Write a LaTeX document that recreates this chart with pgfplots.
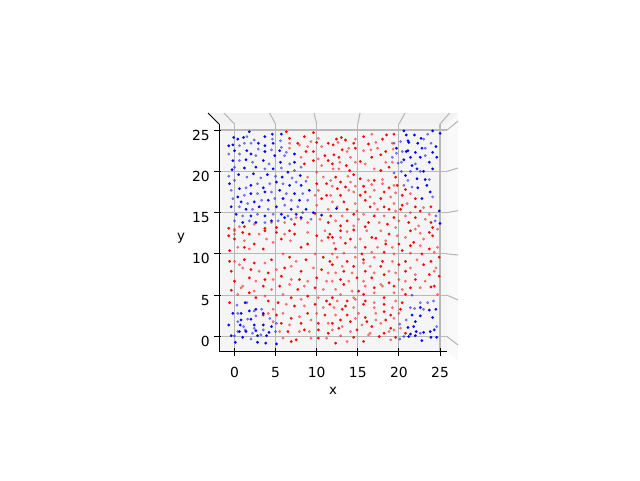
\documentclass[border=0pt]{standalone}
\usepackage{fontspec}
\setmainfont{DejaVu Sans}
\usepackage{pgfplots}
\pgfplotsset{compat=1.18}
\definecolor{gridgray}{RGB}{184,184,184}
\definecolor{floorpane}{RGB}{245,245,245}
\definecolor{backpane}{RGB}{242,242,242}
\definecolor{sidepane}{RGB}{249,249,249}
\pgfplotsset{
  solidpt/.style={only marks,color=#1,mark=*,mark size=1pt,mark options={solid,fill=#1,line width=0.1pt}},
  fadedpt/.style={only marks,color=#1,mark=*,mark size=1pt,mark options={solid,fill=#1,line width=0.1pt,opacity=0.5}},
  wallgrid/.style={draw=gridgray,line width=0.8pt,no marks,forget plot},
  tickmark/.style={draw=black,line width=0.75pt,no marks,forget plot},
}
\begin{document}
\begin{tikzpicture}
\useasboundingbox (0,0) rectangle (480pt,360pt);
\begin{axis}[
  at={(164.25pt,96.75pt)},anchor=south west,scale only axis,
  width=171pt,height=170.25pt,
  xmin=-1.886,xmax=25.85,ymin=-1.755,ymax=25.73,
  clip=false,
  axis x line*=bottom,axis y line*=left,
  axis line style={-,black,line width=0.75pt},
  axis background/.style={fill=floorpane},
  xtick={0,5,...,25},ytick={0,5,...,25},
  major tick length=0pt,
  xmajorgrids,ymajorgrids,
  grid style={gridgray,line width=0.8pt},
  tick label style={font=\fontsize{10.4}{12}\selectfont,/pgf/number format/assume math mode=true},
  xticklabel shift=8.8pt,yticklabel shift=3.4pt,
  yticklabel style={yshift=-3.75pt},
  label style={font=\fontsize{10.4}{12}\selectfont},
  xlabel={x},ylabel={y},
  every axis x label/.style={at={(axis description cs:0.5,-0.176)},anchor=center},
  every axis y label/.style={at={(axis description cs:-0.1667,0.498)},anchor=center},
]
% panes around the floor
\addplot[draw=none,fill=backpane,forget plot] coordinates {(-3.22,27.06) (27.19,27.06) (25.85,25.73) (-1.886,25.73)} -- cycle;
\addplot[draw=none,fill=sidepane,forget plot] coordinates {(25.85,25.73) (27.19,27.06) (27.19,-2.97) (25.85,-1.755)} -- cycle;
% grid continuing on the walls
\addplot[wallgrid] coordinates {(0,25.73) (-1.28,27.06)};
\addplot[wallgrid] coordinates {(5,25.73) (4.26,27.06)};
\addplot[wallgrid] coordinates {(10,25.73) (9.67,27.06)};
\addplot[wallgrid] coordinates {(15,25.73) (15.27,27.06)};
\addplot[wallgrid] coordinates {(20,25.73) (20.74,27.06)};
\addplot[wallgrid] coordinates {(25,25.73) (26.16,27.06)};
\addplot[wallgrid] coordinates {(25.85,25) (27.19,26.09)};
\addplot[wallgrid] coordinates {(25.85,20) (27.19,20.4)};
\addplot[wallgrid] coordinates {(25.85,15) (27.19,15.25)};
\addplot[wallgrid] coordinates {(25.85,10) (27.19,9.87)};
\addplot[wallgrid] coordinates {(25.85,5) (27.19,4.42)};
\addplot[wallgrid] coordinates {(25.85,0) (27.19,-1.03)};
\addplot[tickmark] coordinates {(-3.22,27.06) (-1.886,25.73)};
% tick marks, crossing the axis lines
\addplot[tickmark] coordinates {(0,-1.39) (0,-2.3)};
\addplot[tickmark] coordinates {(5,-1.39) (5,-2.3)};
\addplot[tickmark] coordinates {(10,-1.39) (10,-2.3)};
\addplot[tickmark] coordinates {(15,-1.39) (15,-2.3)};
\addplot[tickmark] coordinates {(20,-1.39) (20,-2.3)};
\addplot[tickmark] coordinates {(25,-1.39) (25,-2.3)};
\addplot[tickmark] coordinates {(-2.49,0) (-1.64,0)};
\addplot[tickmark] coordinates {(-2.49,5) (-1.64,5)};
\addplot[tickmark] coordinates {(-2.49,10) (-1.64,10)};
\addplot[tickmark] coordinates {(-2.49,15) (-1.64,15)};
\addplot[tickmark] coordinates {(-2.49,20) (-1.64,20)};
\addplot[tickmark] coordinates {(-2.49,25) (-1.64,25)};
% red, near
\addplot[solidpt=red] coordinates {
(-0.7,12.2)(1,12.6)(1.8,12.4)(3.7,12.8)(5.1,12.6)(6.7,12.8)(7.3,12.4)(10,12.2)(11.6,12.4)
(-0.6,10.4)(1.2,10.8)(2.4,11.2)(3.5,10.6)(5.7,11.8)(8.1,10.8)(8.9,11.2)(11.4,12)(0,11.8)
(-0.6,9.1)(1.2,9.3)(2.4,8.9)(4.5,9.3)(6.7,9.6)(8.7,9.3)(10.8,9.6)(11.6,9.1)
(-0.4,7.9)(2,8.1)(4.1,7.7)(6.1,8.3)(8.1,7.9)(10.6,8.1)
(0,6.7)(1.8,7.1)(3.7,6.9)(5.7,7.3)(7.9,6.9)(10,7.1)
(-0.4,5.6)(1.8,5.3)(3.5,6.1)(5.5,6.1)(7.7,5.7)(9.8,5.9)
(-0.6,4.1)(2.6,4.7)(4.1,4.3)(6.9,4.7)(8.9,4.9)(11.2,4.3)
(3.5,2.6)(5.3,4.1)(7.3,3.7)(9.8,3.9)(11.6,3.9)
(5.1,2.6)(6.9,2.2)(8.9,2.8)(11,2.6)
(5.7,1.6)(8.1,1.6)(10.2,1.6)
(6.5,0.6)(8.5,0.8)(10.2,0.8)(11.4,0.4)
(7.5,-0.4)(10.2,-0.2)(6.9,-0.6)
(6.3,24.8)(8.5,24.2)(9.6,24.7)(6.7,24)(7.7,23.4)(10,23.5)(9.6,22.4)(11.4,23.4)(8.7,22.4)(11,21.9)(9.6,21.3)(11.4,21.3)(8.5,20.9)(10,18.5)(11.2,18.5)(10.6,16.7)(11.2,17.1)(9.8,14.9)(7.3,13.6)(5.1,13.2)(11.4,13.8)
(1.2,13.3)(3.7,13.1)(-0.7,13.1)
(12.4,23.9)(13,24.1)(15.7,24.2)(18.5,24.4)(19.4,24.5)(13.5,23.8)(16.3,23.3)(18,23.9)(12,23.2)(13.1,22.6)(14.5,23.4)(18.4,22.4)(12.1,22)(14.7,22.8)(17.8,22)(12.7,21.7)(16.7,21.7)(11.9,20.9)(13.6,20.7)(15.3,21.2)(18.8,20.5)(17.8,20.1)(14,20.1)
(12.3,19.3)(14.5,19.6)(17,18.9)(19.6,19.3)(12.9,18.7)(15.3,19.1)(19.8,18.3)(13.5,18.1)(15.7,18.2)(18.8,18)(12.5,17.9)(15.9,17.5)(18.2,17.5)(20.8,17.8)(12.9,17.1)(15.3,17.1)(17.8,16.7)(20.4,17.1)(22,16.7)(13.3,16.3)(15.9,16.5)(18.2,15.7)(20.4,15.9)(22,15.7)(23.9,15.7)(13.7,15.4)(16.5,15.7)(18.8,15.4)(20.2,15.4)(22.6,15.2)(11.7,14.6)(14.5,14.8)(17,14.6)(19.4,14.4)(22,14.4)(23.9,13.8)(13.7,14)(16.3,13.8)(18.6,13.6)(21.2,13.8)(12.9,13.4)(15.9,13.3)(24.1,13.2)
(12.9,12.8)(14.5,12.9)(16.7,12)(18.8,12.4)(21.4,12.8)(23.7,12.6)(11.9,12)(14.1,11.8)(17.2,11.9)(20,11.2)(21.8,11.4)(24.1,12.2)(13.5,11.3)(15.9,10.8)(18.4,11.2)(21.4,11)(23.7,10.6)(12.3,10.6)(15.5,10)(18.2,10.2)(20.4,10.4)(22.8,10)(24.9,9.6)(13.7,9.1)(15.7,9.3)(18,9.1)(20.8,9.1)(23.9,9.1)(11.9,8.7)(14.5,8.5)(17.8,8.5)(20,8.7)(23,8.7)(24.9,7.3)(13.3,7.9)(15.9,7.9)(18.2,7.5)(20.8,7.9)(23.7,7.5)(12.9,6.9)(14.9,7.1)(16.7,7.1)(18.8,6.5)(22,6.9)(24.3,6.1)(13.3,6.3)(15.1,5.5)(17,5.9)(19.4,6.1)(21.4,5.9)(23.9,6)(11.9,4.7)(13.7,4.3)(15.7,5.1)(18.2,4.7)(20.8,5.1)(13.5,3.7)(15.9,4.3)(18.2,3.9)(20.4,4.1)(13.1,3.3)(15.7,3.9)(18.2,3)(20.2,3.3)(13.7,2.6)(15.9,2.3)(19,2.6)(12.9,2)(16.1,1.8)(18.4,2)(11.9,1.6)(14.1,1.8)(16.7,1.2)(19,1)(12.7,1)(14.9,0.8)(18.2,0.4)(20.8,0.4)(14.5,-0.1)(17.6,0)(19.6,-0.1)(12.3,-0.8)(15.7,-0.6)
};
% red, far
\addplot[fadedpt=red] coordinates {
(0,12.8)(0,12.4)(3,12.4)(6.1,12.4)(8.9,12.6)(11,12.8)(0.4,10.8)(1.8,10.6)(4.7,11.4)(6.8,11.6)(10.6,11.6)(1.2,11.6)(3.9,11.8)
(0,9.1)(0.6,8.7)(3.7,8.9)(5.9,10)(7.5,9.1)(9.8,10)(1,8.3)(3,7.9)(5.1,8.1)(6.9,8.5)(9.6,8.3)(11.4,7.7)(1,6.1)(2.6,6.7)(4.7,6.9)(6.9,6.9)(8.9,6.7)(11.2,6.7)
(0.8,5.9)(2.4,5.5)(4.5,5.7)(6.7,6.3)(8.5,6.1)(10.8,5.7)(0.4,5.1)(3.7,4.9)(5.9,5.1)(8.1,4.5)(10.2,4.7)
(4.7,3.3)(6.3,3.9)(8.5,3.7)(10.8,3.5)(4.1,2.8)(5.9,2.8)(7.9,2.4)(10,2.8)(4.7,1.8)(6.7,1.4)(9.3,2)(11.4,1.6)(5.5,0.6)(7.9,0.6)(9.1,0.6)(5.9,-0.2)(9.3,-0.2)(11.2,-0.2)
(10.2,24)(6.7,23.4)(7.9,23.2)(9.3,23.6)(8.9,23)(10.6,23)(6.7,22.8)(10.2,21.5)(8.1,21.7)(10.6,20.7)(10,19.9)(8.9,19.3)(10.8,19.3)(10.2,17.7)(9.8,17.1)(10,15.9)(11.4,15.4)(8.9,13.8)(8.1,14.2)(6.1,13.8)(10.4,14.2)(0,13)(7.5,14.4)
(0.6,13.3)(2.4,13.6)(4.5,13.8)
(16.7,24.5)(12.6,23.5)(14.7,23.9)(17.2,23.5)(19.2,23.4)(13.9,22.8)(17.4,22.8)(19.3,22.7)(13.7,22.4)(16.6,22.6)(15.7,22.5)(14.1,21.7)(19.2,21.1)(12.8,21.1)(14.7,21.1)(15.9,20.9)(18.4,21.1)(17,20.3)(12,20.3)(12.7,20.3)
(13.8,19.4)(16.3,18.9)(18,19)(11.7,18.9)(14.1,18.7)(18,18.5)(11.9,18.2)(14.7,18.2)(16.7,18.4)(19.4,18.3)(13.9,17.7)(17,17.7)(19.6,17.4)(11.7,17.1)(14.5,17.5)(16.5,16.9)(19,16.9)(21.4,17.3)(11.9,16.3)(14.7,16.1)(17,16.1)(19.4,16.1)(21,16.1)(23,15.6)(12.5,15.7)(14.9,15.2)(17.4,15.4)(19.6,15.2)(21.4,15)(23.7,14.8)(13.1,14.6)(15.7,14.8)(18.2,14.6)(20.8,14.6)(23.2,14.2)(12.3,14)(15.1,14.2)(17.6,13.8)(20,14)(22.4,13.4)(14.5,13.4)(19.6,13.2)(22,13)
(13.7,12.7)(16.1,12.8)(17.8,12.8)(19.8,12.2)(22.6,12.5)(24.7,13)(12.9,12)(15.3,11.8)(18.4,11.6)(20.8,12)(23,11.8)(12.1,11.3)(14.7,10.8)(17.4,10.8)(19.2,10.8)(22.6,11)(24.7,10.8)(13.3,10.1)(11.9,10)(16.7,10.2)(19.4,10)(21.4,10.1)(24.3,10.2)(12.5,9.6)(14.7,9.6)(17,9.6)(19.2,9.1)(22.2,9.3)(24.5,8.3)(13.1,8.5)(15.7,8.9)(16.5,8.5)(18.8,7.9)(21.4,8.3)(24.3,7.9)(12.3,7.7)(14.3,7.7)(17,7.7)(19.6,7.7)(22,7.5)(11.9,6.7)(13.9,6.7)(15.7,6.7)(17.8,6.3)(20,6.9)(20.8,6.7)(23.2,6.7)(12.3,5.7)(14.3,5.5)(15.9,6.1)(18,6.1)(20.4,5.7)(22.6,5.9)(24.7,5.1)(12.9,5.1)(14.5,4.7)(17,5.3)(19.4,5.3)(12.5,4.3)(14.7,4.5)(17,4.1)(19.6,4.3)(12.1,3.5)(14.5,3.5)(17,3.5)(19.2,3.5)(12.3,2.6)(15.1,2.8)(17.2,2.8)(20,2.8)(14.7,2.2)(17.2,2)(19.4,2.2)(13.1,1.2)(15.5,1.4)(17.8,1.6)(20.2,1)(11.9,0.8)(14.1,0.6)(16.5,0.4)(19.4,0.8)(12.9,0.1)(16.3,0.2)(18.8,0.6)(13.7,-0.6)(19,-0.4)
};
% blue, near
\addplot[solidpt=blue] coordinates {
(1.3,4.1)(-0.2,2.8)(0.8,2.8)(1.8,3.1)(2.6,3.3)(0.8,2)(2,2.1)(3.5,2.8)(0.7,1.4)(2.4,1.4)(3.5,1.4)(4.5,1.2)(-0.7,1.4)(0.6,0.6)(1.4,0.6)(2.6,0.7)(4.2,0.5)(-0.4,0.1)(1,-0.1)(2.8,0.1)(3.9,0.1)(0.1,-0.7)(2.8,-0.7)(3.8,-0.8)(5.1,-0.9)
(22.6,3.5)(23.7,3.2)(24.5,3.3)(21.6,2.6)(22.6,2.5)(24.1,2.3)(22,1.8)(21.1,1.1)(21.8,1.2)(22.1,0.6)(23,0.5)(23.8,0.6)(24.3,0.8)(21.2,0)(21.4,0.3)(22,0.1)(22.8,-0.5)(23.9,-0.1)(24.6,-0.1)
(20.6,24.9)(20.9,24.4)(21.9,24.4)(22.7,24)(24.1,24.9)(25,24.6)(19.7,22.8)(21.1,23.7)(21.2,23.5)(22.3,23.4)(24.5,23)(20.9,22.4)(21.1,22.5)(22,22.3)(22.8,22.8)(24.1,22.3)(21.4,21.7)(20.6,21.4)(22.6,21.7)(23.7,21.1)(24.6,21.7)(21.6,20.7)(20.8,19.5)(22.2,20.3)(23,20)(24.1,20.3)(22.2,19.1)(23.2,19)(22.3,18)(23.4,18.3)(23.8,17.5)(22.8,16.7)(24.9,15.2)(25,13.7)(12.4,15.5)
(1.8,24.8)(-0.1,24.1)(0.4,23.9)(1.1,24.1)(3.7,24.2)(4.6,24.5)(5.7,24.5)(-0.7,23.1)(-0.2,23.2)(2.9,23.4)(3.7,23.1)(4.7,23.4)(0,22.5)(1.5,22.5)(3.7,22.4)(5.5,22.5)(2,22.1)(4.9,21.9)(7.3,22.1)(-0.2,21.3)(1.4,21.4)(3.5,21.3)(5.6,21.1)(7.3,21.1)(-0.3,20.2)(1.2,20.4)(2.6,20.5)(4.7,20.3)(6.5,19.9)
(0.5,19.6)(2.3,19.7)(4,19.6)(5.8,19.3)(8,19.5)
(-0.6,18.5)(0.6,17.9)(2,18.3)(3.5,18)(5.1,18.7)(6.7,18.3)(8.1,18.3)(0.4,16.9)(2,17.3)(3.7,17.5)(5.5,17.7)(7.3,17.3)(9.1,17.7)(0.8,16.3)(2.4,16.3)(4.1,16.5)(5.9,16.7)(7.9,16.5)(-0.4,15.7)(1.4,15.4)(3,15.7)(5.1,15.7)(6.9,15.4)(8.7,15.4)(0.2,14.8)(2,14.6)(3.7,14.6)(5.7,14.8)(7.5,14.8)(9.6,15)(1,13.8)(2.6,13.8)(4.5,14)(6.1,14.4)(8.1,14.4)(10.6,14.7)
};
% blue, far
\addplot[fadedpt=blue] coordinates {
(0.3,3.8)(1.5,4.1)(0.4,2.8)(2.4,3.1)(3.3,3.3)(1.6,2.1)(2.6,2.5)(0.4,1.8)(1.1,1.2)(2.4,1)(4.3,2.2)(5.1,1.6)(0.4,0.6)(1.3,0.8)(2.2,0.4)(3.5,0.8)(5,0.6)(0,0.1)(2,-0.3)(3.2,0.2)
(21.6,5)(22.6,4.1)(23.5,4.1)(24.2,4.3)(21.4,3.5)(21.9,3.4)(23,3.3)(20.9,2)(20.1,1.5)(22.6,0.4)(24.6,1.2)(20.1,-0.3)(20.6,0)
(23.5,24.5)(19.4,23.4)(20.2,23.6)(23,23.9)(23.9,23.4)(19.2,21.7)(19.7,22.2)(20.4,22.4)(23.2,22.8)(20.3,21.1)(22,20.9)(23.2,21.9)(19.9,21)(19.4,19.8)(20.3,20)(21.4,20)(22.6,20)(21.1,18.9)(23.7,19)(21.6,18.1)(20.6,18.3)(24.1,16.9)(24.5,14.6)(24.4,14)
(1.5,24.2)(2.4,23.8)(4.6,23.9)(5.6,23.7)(1.2,23.4)(2,23.4)(0.6,23.1)(5.7,22.9)(0.6,22.1)(2.9,22.7)(4.5,22.6)(6.3,22.3)(-0.7,22.1)(2.6,21.9)(6.1,21.9)(0.6,21.3)(2.2,21.1)(4.2,20.9)(6.7,20.9)(0,20.5)(3.7,20.3)(5.7,20.4)(7.3,20.1)(8.1,20.5)
(1.5,19.3)(3.2,19.2)(5,19.4)(7,19.2)(8.7,18.8)(-0.7,19.4)
(0,18.9)(1.4,18)(2.8,18.5)(4.3,18.5)(5.9,18.5)(7.5,18.7)(-0.4,17.7)(1.2,17.1)(2.8,17.3)(4.5,17.5)(6.3,17.3)(8.3,17.3)(-0.2,16.7)(1.6,16.1)(3.3,16.5)(4.9,16.7)(6.9,16.5)(8.9,16.5)(0.6,15.7)(2.2,15.4)(4.1,15.4)(6.1,15.9)(7.7,15.7)(1,14.6)(2.8,14.8)(4.7,14.8)(6.5,14.6)(8.3,15)(0,14)(1.8,14)(3.7,13.8)(5.3,14)(6.9,14.2)(9.3,14.2)
};
\end{axis}
\end{tikzpicture}
\end{document}
